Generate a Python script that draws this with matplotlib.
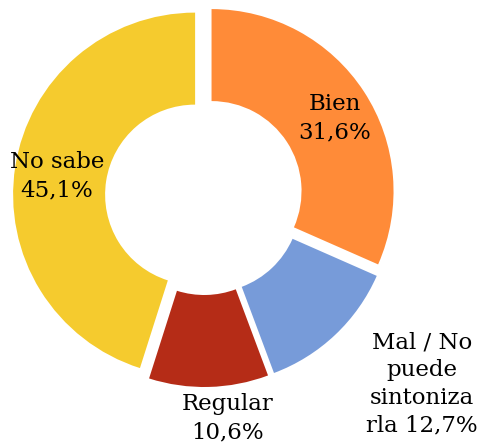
import matplotlib
matplotlib.use("Agg")
import matplotlib.pyplot as plt

labels = ["Bien", "Mal / No\npuede\nsintoniza\nrla", "Regular", "No sabe"]
values = [31.6, 12.7, 10.6, 45.1]
colors = ["#FF8B38", "#779BD9", "#B52C17", "#F5CB2E"]

# label anchor positions in pixel coords (x, y from top)
label_pos = [(335, 118), (422, 384), (228, 418), (57, 176)]

fig = plt.figure(figsize=(4.87, 4.48), dpi=100)
ax = fig.add_axes([0, 0, 1, 1])

# explode is an absolute offset here (data units = pixels)
ax.pie(values, colors=colors, startangle=90, counterclock=False,
       center=(204, -196), radius=182, explode=[9] * 4,
       wedgeprops=dict(width=92, linewidth=0))
ax.set_xlim(0, 487)
ax.set_ylim(-448, 0)
ax.set_aspect("equal")
ax.axis("off")

for lab, val, (x, y) in zip(labels, values, label_pos):
    txt = lab + (" " if lab.endswith("rla") else "\n") + f"{val:.1f}%".replace(".", ",")
    ax.text(x, -y, txt, ha="center", va="center", fontsize=16.5,
            family="DejaVu Serif", linespacing=1.35)

fig.savefig("out.png", dpi=100)
